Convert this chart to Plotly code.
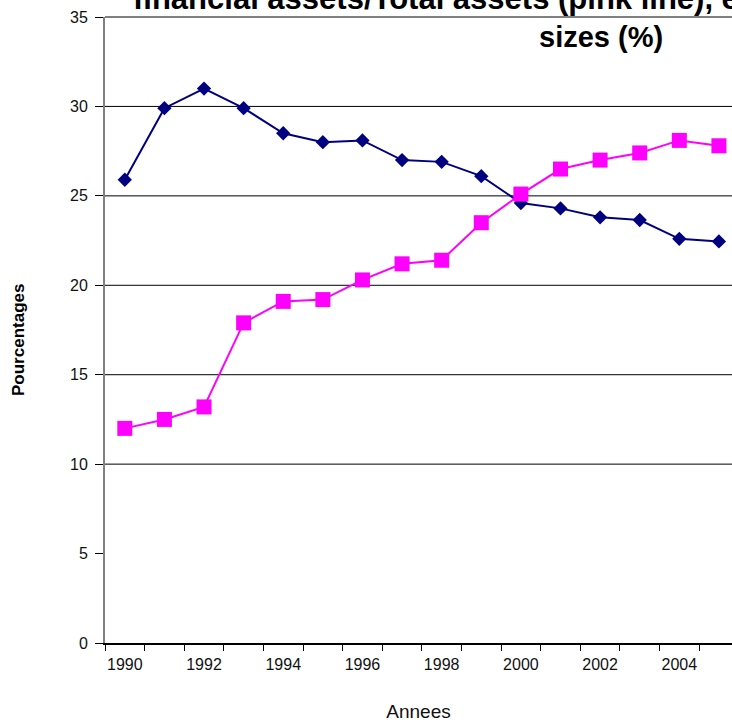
import plotly.graph_objects as go

years = list(range(1990, 2006))
blue_values = [25.9, 29.9, 31.0, 29.9, 28.5, 28.0, 28.1, 27.0, 26.9, 26.1,
               24.6, 24.3, 23.8, 23.65, 22.6, 22.45]
pink_values = [12.0, 12.5, 13.2, 17.9, 19.1, 19.2, 20.3, 21.2, 21.4, 23.5,
               25.1, 26.5, 27.0, 27.4, 28.1, 27.8]
x_tick_labels = [1990, 1992, 1994, 1996, 1998, 2000, 2002, 2004]
y_tick_values = [0, 5, 10, 15, 20, 25, 30, 35]
grid_values = [10, 15, 20, 25, 30]
title_line1 = "financial assets/Total assets (pink line), e"
title_line2 = "sizes (%)"
x_title = "Annees"
y_title = "Pourcentages"

FONT = "Liberation Sans, Arial, sans-serif"

fig = go.Figure()
fig.add_trace(go.Scatter(
    x=years, y=blue_values, mode="lines+markers",
    line=dict(color="#000080", width=2),
    marker=dict(symbol="diamond", size=11, color="#000080"),
    showlegend=False, cliponaxis=False,
))
fig.add_trace(go.Scatter(
    x=years, y=pink_values, mode="lines+markers",
    line=dict(color="#FF00FF", width=2),
    marker=dict(symbol="square", size=15, color="#FF00FF"),
    showlegend=False, cliponaxis=False,
))

for v in grid_values:
    fig.add_hline(y=v, line=dict(color="black", width=1), layer="below")

fig.add_shape(type="line", xref="paper", yref="paper", x0=0, x1=1, y0=1, y1=1,
              line=dict(color="#808080", width=2))

fig.update_layout(
    width=732, height=724,
    margin=dict(l=105, r=0, t=17, b=81, autoexpand=False),
    paper_bgcolor="white", plot_bgcolor="white",
    font=dict(family=FONT, color="black"),
    xaxis=dict(
        range=[1989.5, 2005.33],
        tickmode="array", tickvals=x_tick_labels,
        ticktext=[str(v) for v in x_tick_labels],
        ticks="", showgrid=False, zeroline=False,
        showline=True, linecolor="black", linewidth=2,
        tickfont=dict(size=16, color="#111"),
        ticklabelstandoff=6,
        minor=dict(tickmode="linear", tick0=1989.5, dtick=1, ticks="outside",
                   ticklen=6, tickcolor="black", tickwidth=1, showgrid=False),
        title=dict(text=x_title, font=dict(size=19, color="#111"), standoff=32),
        automargin=False,
    ),
    yaxis=dict(
        range=[0, 35],
        tickmode="array", tickvals=y_tick_values,
        ticks="outside", ticklen=8, tickcolor="black", tickwidth=1,
        showgrid=False, zeroline=False,
        showline=True, linecolor="#808080", linewidth=2,
        tickfont=dict(size=16, color="#111"),
        ticklabelstandoff=4,
        automargin=False,
    ),
    annotations=[
        dict(text="<b>" + title_line1 + "</b>", xref="paper", yref="paper",
             x=(131 - 105) / 627, y=(643 + 1) / 626, xanchor="left", yanchor="middle",
             showarrow=False, font=dict(size=31, color="black", family=FONT)),
        dict(text="<b>" + title_line2 + "</b>", xref="paper", yref="paper",
             x=(537 - 105) / 627, y=(643 - 37) / 626, xanchor="left", yanchor="middle",
             showarrow=False, font=dict(size=29, color="black", family=FONT)),
        dict(text="<b>" + y_title + "</b>", xref="paper", yref="paper",
             x=(18 - 105) / 627, y=(643 - 340) / 626, xanchor="center", yanchor="middle",
             textangle=-90, showarrow=False,
             font=dict(size=17, color="black", family=FONT)),
    ],
)

fig.write_html("out.html",
               config={"displayModeBar": False},
               post_script="document.body.style.margin='0';"
                           "document.body.style.overflow='hidden';")
